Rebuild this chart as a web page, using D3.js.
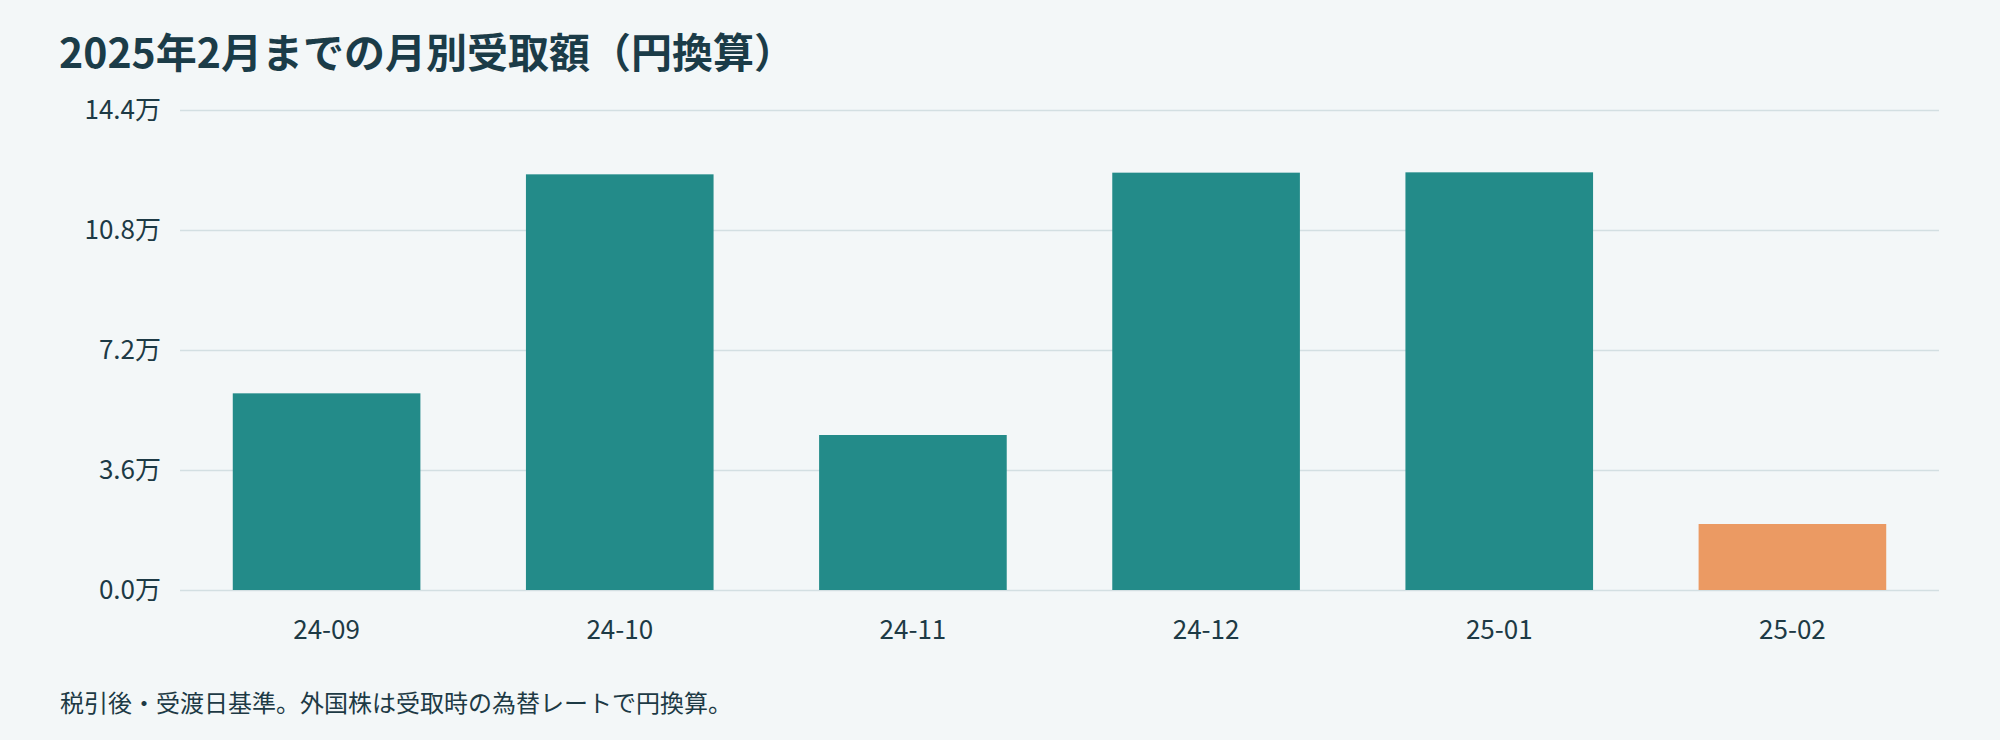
<!DOCTYPE html>
<html>
<head>
<meta charset="utf-8">
<script src="https://cdn.jsdelivr.net/npm/d3@7"></script>
<style>
  body { margin: 0; background: #f3f7f8; }
  svg { display: block; }
  svg text { font-family: "Noto Sans CJK JP", "Noto Sans", sans-serif; }
</style>
</head>
<body>
<div id="chart"></div>
<script>
// monthly received amounts (yen)
var months = ["24-09", "24-10", "24-11", "24-12", "25-01", "25-02"];
var amounts = [59000, 124700, 46500, 125200, 125300, 19800];
var yTicks = [0, 36000, 72000, 108000, 144000];

var titleText = "2025年2月までの月別受取額（円換算）";
var noteText = "税引後・受渡日基準。外国株は受取時の為替レートで円換算。";

var W = 2000, H = 740;
var margin = {top: 110, right: 61, bottom: 150, left: 180},
    width = W - margin.left - margin.right,
    height = H - margin.top - margin.bottom;

var data = months.map(function (m, i) { return {month: m, value: amounts[i]}; });

var svg = d3.select("#chart")
  .append("svg")
    .attr("width", W)
    .attr("height", H);

svg.append("rect")
  .attr("width", W)
  .attr("height", H)
  .attr("fill", "#f3f7f8");

svg.append("text")
  .attr("x", 59)
  .attr("y", 68)
  .attr("fill", "#1b3c48")
  .style("font-size", "41px")
  .style("font-weight", "bold")
  .text(titleText);

var g = svg.append("g")
  .attr("transform", "translate(" + margin.left + "," + margin.top + ")");

var x = d3.scaleBand()
  .domain(months)
  .range([0, width])
  .paddingInner(0.36)
  .paddingOuter(0.18);

var y = d3.scaleLinear()
  .domain([0, 144000])
  .range([height, 0]);

// gridlines + y labels
g.append("g")
  .call(d3.axisLeft(y)
    .tickValues(yTicks)
    .tickSize(-width)
    .tickPadding(19)
    .tickFormat(function (d) { return (d / 10000).toFixed(1) + "万"; }))
  .call(function (a) { a.select(".domain").remove(); })
  .call(function (a) {
    a.selectAll("line").attr("stroke", "#d3dfe2").attr("stroke-width", 1.5);
    a.selectAll("text").attr("fill", "#1d3a45")
      .style("font-family", '"Noto Sans CJK JP", sans-serif')
      .style("font-size", "26px");
  });

g.selectAll(".bar")
  .data(data)
  .enter()
  .append("rect")
  .attr("class", "bar")
  .attr("x", function (d) { return x(d.month); })
  .attr("width", x.bandwidth())
  .attr("y", function (d) { return y(d.value); })
  .attr("height", function (d) { return height - y(d.value); })
  .attr("fill", function (d, i) { return i === data.length - 1 ? "#eb9a63" : "#238b89"; });

// month labels
g.append("g")
  .attr("transform", "translate(0," + height + ")")
  .call(d3.axisBottom(x).tickSize(0).tickPadding(31))
  .call(function (a) { a.select(".domain").remove(); })
  .call(function (a) {
    a.selectAll("text").attr("fill", "#1d3a45")
      .style("font-family", '"Noto Sans CJK JP", sans-serif')
      .style("font-size", "26px");
  });

svg.append("text")
  .attr("x", 60)
  .attr("y", 712)
  .attr("fill", "#1d3a45")
  .style("font-size", "24px")
  .text(noteText);
</script>
</body>
</html>
